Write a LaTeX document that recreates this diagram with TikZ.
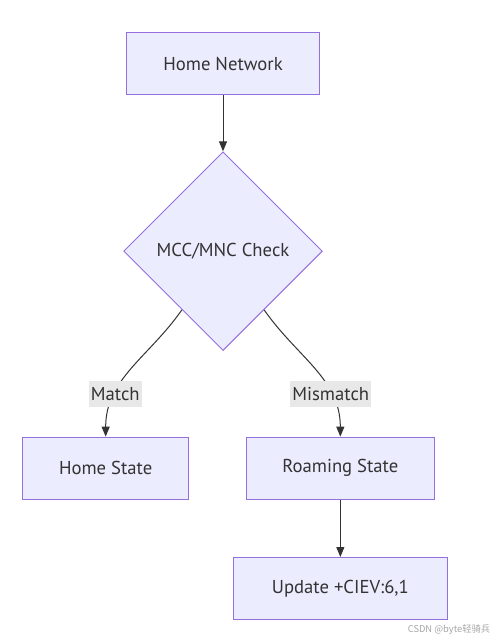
\documentclass[tikz,border=0pt]{standalone}
\usepackage{fontspec}
\setmainfont{PT Sans}
\newfontfamily\cjkfont{Noto Sans CJK SC}
\usetikzlibrary{shapes.geometric, positioning, arrows.meta}
\definecolor{mmfill}{HTML}{ECECFF}
\definecolor{mmline}{HTML}{9370DB}
\definecolor{mmtext}{HTML}{333333}
\definecolor{mmlabel}{HTML}{E8E8E8}

\begin{document}
\begin{tikzpicture}[
  >={Triangle[length=7.5pt,width=6pt]},
  box/.style={
    rectangle, draw=mmline, fill=mmfill, line width=0.75pt,
    minimum height=46.5pt, align=center, text=mmtext,
    font=\fontsize{14}{16}\selectfont
  },
  decision/.style={
    diamond, draw=mmline, fill=mmfill, line width=0.75pt,
    minimum size=149pt, inner sep=0pt, align=center, text=mmtext,
    font=\fontsize{14}{16}\selectfont
  },
  link/.style={->, draw=mmtext, line width=0.75pt},
  cond/.style={
    fill=mmlabel, text=mmtext, inner xsep=1.5pt, minimum height=19.5pt,
    font=\fontsize{14}{16}\selectfont
  },
]

\useasboundingbox (-167.25pt,47.625pt) rectangle (207pt,-433.125pt);

% Home network
\node[box, minimum width=144pt, minimum height=47pt] (home) {Home Network};

% Check
\node[decision, below=42pt of home] (check) {MCC/MNC Check};

% Result states
\node[box, minimum width=124.5pt, below=64.25pt of check, xshift=-88pt]
  (homestate) {Home State};
\node[box, minimum width=141pt, below=64.25pt of check, xshift=88pt]
  (roaming) {Roaming State};

% Report
\node[box, minimum width=160.5pt, below=43pt of roaming] (update)
  {Update +CIEV:6,1};

% Arrows
\draw[link] (home) -- (check);
\draw[link] (check) to[out=-125, in=90]
  node[cond, pos=0.71] (matchlbl) {Match} (homestate);
\draw[link] (check) to[out=-55, in=90]
  node[cond, pos=0.71] (mismatchlbl) {Mismatch} (roaming);
\draw[link] (roaming) -- (update);

% Watermark
\node[anchor=east, text=black!35, font=\cjkfont\fontsize{7}{8}\selectfont]
  (watermark) at (204pt,-424.9pt) {CSDN @byte轻骑兵};

\end{tikzpicture}
\end{document}
